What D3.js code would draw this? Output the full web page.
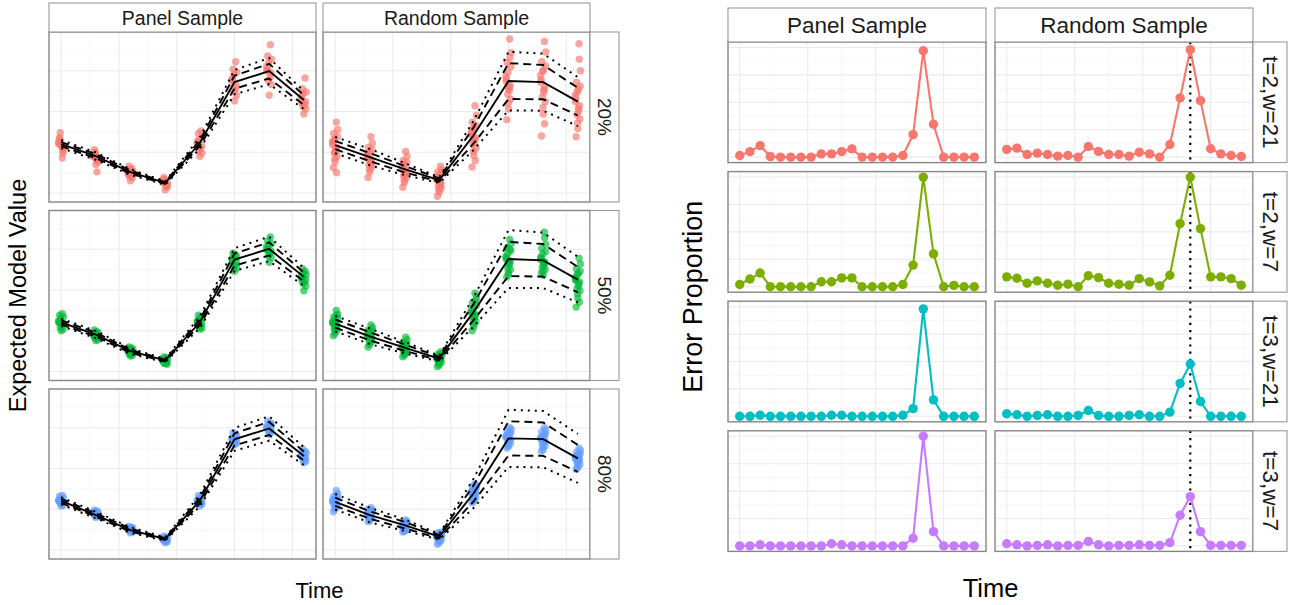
<!DOCTYPE html>
<html>
<head>
<meta charset="utf-8">
<script src="https://d3js.org/d3.v7.min.js"></script>
<style>
    body { margin: 0; background: #fff; }
    svg { display: block; font-family: 'Liberation Sans', Arial, Helvetica, sans-serif; }
</style>
</head>
<body>
<script>
window.document.addEventListener('DOMContentLoaded', init, false);

// ---------- left chart: expected model value ----------
var times = [0, 6, 12, 18, 24, 30, 36, 42];
var sampleTypes = ['Panel Sample', 'Random Sample'];
var quantileRows = ['20%', '50%', '80%'];
var quantileColors = ['#F8766D', '#00BA38', '#619CFF'];

var meanPanel20 = [6.00, 4.53, 2.57, 1.23, 6.13, 13.60, 14.95, 11.40];
var meanRandom20 = [5.88, 4.41, 2.94, 1.59, 7.11, 13.73, 13.60, 11.21];
var meanPanel50 = [6.04, 4.53, 2.49, 1.35, 6.04, 13.73, 15.04, 11.61];
var meanRandom50 = [5.88, 4.32, 2.94, 1.59, 7.35, 13.81, 13.64, 11.27];
var meanPanel80 = [6.04, 4.29, 2.45, 1.35, 6.04, 13.57, 14.91, 11.52];
var meanRandom80 = [5.92, 4.29, 3.06, 1.63, 6.99, 13.69, 13.60, 11.24];

// half widths of the dashed (inner) and dotted (outer) bands
var dashPanel20 = [0.25, 0.25, 0.2, 0.1, 0.35, 0.8, 0.9, 0.6];
var dotPanel20 = [0.5, 0.45, 0.35, 0.2, 0.7, 1.5, 1.6, 1.1];
var dashPanel50 = [0.25, 0.25, 0.2, 0.1, 0.35, 0.75, 0.8, 0.55];
var dotPanel50 = [0.45, 0.45, 0.35, 0.2, 0.7, 1.4, 1.5, 1.1];
var dashPanel80 = [0.25, 0.2, 0.2, 0.1, 0.35, 0.75, 0.8, 0.55];
var dotPanel80 = [0.45, 0.4, 0.35, 0.2, 0.7, 1.4, 1.5, 1.1];
var dashRandom20 = [0.5, 0.5, 0.4, 0.2, 1.0, 2.2, 2.1, 1.7];
var dotRandom20 = [1.0, 1.0, 0.75, 0.35, 1.8, 3.6, 3.5, 3.0];
var dashRandom50 = [0.5, 0.5, 0.4, 0.2, 1.0, 2.1, 2.0, 1.55];
var dotRandom50 = [0.95, 0.95, 0.7, 0.35, 1.8, 3.55, 3.4, 2.8];
var dashRandom80 = [0.5, 0.45, 0.4, 0.2, 1.0, 2.1, 2.05, 1.65];
var dotRandom80 = [0.95, 0.9, 0.7, 0.35, 1.8, 3.5, 3.45, 3.0];

// individual draws, one list per time point
var ptsPanel20 = [
    [6.0, 5.6, 6.4, 5.2, 6.8, 4.9, 5.9, 6.2, 4.3, 7.4, 5.5, 6.6],
    [4.5, 4.1, 4.9, 3.8, 5.3, 4.3, 3.5, 4.7, 2.6, 5.0, 4.0, 4.4],
    [2.5, 2.2, 2.9, 1.9, 3.3, 2.6, 1.5, 2.4, 3.0, 2.0, 2.7, 2.3],
    [1.3, 1.0, 1.6, 0.7, 1.9, 1.2, 0.4, 1.4, 0.9, 1.7, 1.1, 1.5],
    [6.0, 5.5, 6.6, 4.9, 7.3, 5.8, 4.5, 6.3, 7.6, 5.2, 6.8, 6.1],
    [13.6, 12.8, 14.5, 12.0, 15.2, 13.2, 11.3, 14.0, 16.1, 12.5, 14.8, 13.9],
    [15.0, 14.2, 16.0, 13.3, 16.8, 14.7, 12.0, 15.5, 18.2, 13.8, 16.4, 15.2],
    [11.5, 10.9, 12.2, 10.3, 12.8, 11.2, 9.7, 11.8, 14.1, 10.6, 12.4, 11.0]
];
var ptsRandom20 = [
    [5.9, 5.2, 6.6, 4.5, 7.3, 5.6, 3.8, 6.2, 8.7, 4.9, 6.9, 3.1, 5.4, 7.8, 4.2, 6.4, 2.5, 5.0],
    [4.4, 3.8, 5.0, 3.2, 5.6, 4.1, 2.6, 4.7, 6.9, 3.5, 5.3, 1.9, 4.0, 6.1, 2.9, 4.8, 3.6, 4.2],
    [2.9, 2.4, 3.5, 1.9, 4.0, 2.7, 1.3, 3.2, 5.1, 2.1, 3.8, 0.7, 2.6, 4.5, 1.6, 3.0, 2.3, 3.4],
    [1.6, 1.1, 2.1, 0.6, 2.6, 1.3, 0.1, 1.9, 3.3, 0.8, 2.4, -0.4, 1.4, 2.9, 0.4, 1.7, 1.0, 2.0],
    [7.1, 6.3, 7.9, 5.5, 8.7, 6.8, 4.6, 7.5, 10.7, 6.0, 8.3, 3.2, 6.6, 9.5, 5.1, 7.3, 4.0, 8.0],
    [13.7, 12.6, 14.8, 11.5, 16.0, 13.2, 10.3, 14.3, 18.9, 12.1, 15.5, 9.0, 13.0, 17.2, 11.0, 14.0, 16.6, 12.8],
    [13.6, 12.4, 14.9, 11.2, 16.1, 13.0, 9.7, 14.4, 18.6, 11.8, 15.6, 7.0, 12.7, 17.3, 10.5, 13.9, 8.5, 15.1],
    [11.2, 10.1, 12.4, 9.1, 13.6, 10.7, 7.9, 12.0, 18.3, 9.6, 13.1, 6.9, 10.4, 15.0, 8.6, 11.6, 16.4, 12.7]
];
var ptsPanel50 = [
    [6.0, 5.6, 6.5, 5.2, 6.9, 5.8, 5.0, 6.2, 7.1, 5.4, 6.7, 6.1],
    [4.5, 4.2, 4.8, 3.9, 5.1, 4.4, 3.8, 4.6, 4.9, 4.1, 4.7, 4.3],
    [2.5, 2.2, 2.8, 2.0, 3.0, 2.4, 1.9, 2.6, 2.9, 2.1, 2.7, 2.3],
    [1.3, 1.1, 1.5, 0.9, 1.8, 1.2, 1.0, 1.4, 1.7, 1.0, 1.6, 1.3],
    [6.0, 5.7, 6.4, 5.3, 6.9, 5.9, 5.2, 6.2, 6.7, 5.5, 6.5, 6.1],
    [13.6, 13.1, 14.1, 12.7, 14.5, 13.4, 12.3, 13.8, 14.3, 12.9, 14.0, 13.5],
    [15.0, 14.5, 15.5, 14.0, 16.0, 14.8, 13.4, 15.3, 16.5, 14.2, 15.7, 14.9],
    [11.5, 11.0, 12.0, 10.5, 12.6, 11.3, 9.9, 11.7, 12.3, 10.8, 11.9, 11.2]
];
var ptsRandom50 = [
    [5.9, 5.5, 6.3, 5.1, 6.7, 5.7, 4.7, 6.1, 7.5, 5.3, 6.5, 4.4, 5.8, 7.0, 5.0, 6.0, 6.9, 5.6],
    [4.4, 4.0, 4.8, 3.7, 5.1, 4.2, 3.3, 4.6, 5.7, 3.9, 5.0, 3.0, 4.3, 5.4, 3.5, 4.5, 4.1, 4.9],
    [2.9, 2.6, 3.3, 2.3, 3.6, 2.8, 2.0, 3.1, 4.2, 2.5, 3.4, 1.8, 2.7, 3.9, 2.2, 3.0, 2.4, 3.2],
    [1.6, 1.3, 1.9, 1.1, 2.1, 1.5, 0.8, 1.7, 2.4, 1.2, 2.0, 0.6, 1.4, 2.2, 1.0, 1.6, 1.8, 1.3],
    [7.2, 6.6, 7.8, 6.1, 8.4, 7.0, 5.5, 7.5, 9.6, 6.4, 8.1, 5.0, 6.9, 9.0, 5.8, 7.3, 8.7, 6.7],
    [13.8, 13.1, 14.5, 12.5, 15.2, 13.5, 11.9, 14.1, 16.2, 12.8, 14.8, 11.6, 13.3, 15.7, 12.2, 14.0, 15.0, 13.6],
    [13.7, 13.0, 14.4, 12.5, 15.1, 13.4, 11.8, 14.0, 17.1, 12.8, 14.7, 12.1, 13.2, 15.6, 12.3, 13.9, 16.4, 13.5],
    [11.2, 10.5, 11.9, 9.9, 12.6, 11.0, 9.0, 11.5, 13.9, 10.2, 12.3, 7.9, 10.8, 13.2, 9.5, 11.3, 8.5, 12.0]
];
var ptsPanel80 = [
    [6.0, 5.8, 6.3, 5.5, 6.6, 5.9, 5.4, 6.1, 6.7, 5.7, 6.4, 6.0],
    [4.5, 4.3, 4.7, 4.1, 4.9, 4.4, 4.0, 4.6, 4.8, 4.2, 4.6, 4.4],
    [2.5, 2.3, 2.7, 2.2, 2.9, 2.5, 2.1, 2.6, 2.8, 2.4, 2.7, 2.5],
    [1.3, 1.1, 1.5, 1.0, 1.7, 1.2, 0.9, 1.4, 1.6, 1.1, 1.5, 1.3],
    [6.0, 5.8, 6.3, 5.6, 6.7, 5.9, 5.4, 6.1, 6.5, 5.7, 6.4, 6.0],
    [13.6, 13.3, 13.9, 13.1, 14.4, 13.5, 12.9, 13.7, 14.2, 13.2, 14.0, 13.6],
    [15.0, 14.7, 15.3, 14.4, 15.8, 14.9, 14.2, 15.1, 15.6, 14.6, 15.4, 15.0],
    [11.5, 11.2, 11.8, 10.9, 12.4, 11.4, 10.7, 11.6, 12.1, 11.1, 11.9, 11.5]
];
var ptsRandom80 = [
    [5.9, 5.6, 6.3, 5.3, 6.6, 5.8, 5.0, 6.1, 7.3, 5.5, 6.4, 4.7, 5.7, 6.9, 5.2, 6.0, 6.7, 5.8],
    [4.4, 4.1, 4.7, 3.9, 5.0, 4.3, 3.6, 4.5, 5.2, 4.0, 4.8, 3.5, 4.2, 4.9, 3.8, 4.4, 4.6, 4.3],
    [2.9, 2.7, 3.2, 2.5, 3.4, 2.8, 2.3, 3.0, 3.7, 2.6, 3.3, 2.2, 2.9, 3.5, 2.4, 3.0, 3.1, 2.8],
    [1.6, 1.4, 1.9, 1.2, 2.1, 1.5, 0.9, 1.7, 2.2, 1.3, 2.0, 0.7, 1.6, 1.8, 1.1, 1.5, 1.9, 1.4],
    [7.0, 6.7, 7.4, 6.4, 7.8, 6.9, 6.0, 7.2, 8.1, 6.5, 7.6, 5.8, 7.0, 7.9, 6.2, 7.1, 7.5, 6.8],
    [13.8, 13.4, 14.2, 13.1, 14.6, 13.6, 12.7, 14.0, 15.0, 13.2, 14.4, 12.5, 13.7, 14.8, 12.9, 13.9, 14.3, 13.5],
    [13.6, 13.2, 14.0, 12.8, 14.5, 13.4, 12.3, 13.8, 15.0, 13.0, 14.3, 12.1, 13.5, 14.7, 12.6, 13.7, 14.1, 13.3],
    [11.2, 10.9, 11.6, 10.5, 12.0, 11.1, 10.1, 11.4, 12.5, 10.7, 11.8, 9.9, 11.2, 12.2, 10.3, 11.3, 11.7, 10.9]
];

// horizontal jitter (time units) used for the draws
var jitterX = [-0.4, 0.15, -0.1, 0.35, -0.25, 0.3, 0.0, -0.45, 0.2, -0.15, 0.4, -0.3, 0.1, 0.45, -0.05, -0.35, 0.25, 0.05];

var leftXMajor = [0, 10, 20, 30, 40];
var leftXMinor = [5, 15, 25, 35];
var leftYMajor = [0, 5, 10, 15];
var leftYMinor = [2.5, 7.5, 12.5, 17.5];

// ---------- right chart: error proportion ----------
var errTimes = [0, 3, 6, 9, 12, 15, 18, 21, 24, 27, 30, 33, 36, 39, 42, 45, 48, 51, 54, 57, 60, 63, 66, 69];
var settingRows = ['t=2,w=21', 't=2,w=7', 't=3,w=21', 't=3,w=7'];
var settingColors = ['#F8766D', '#7CAE00', '#00BFC4', '#C77CFF'];
var changeTime = 54;

var errPanelT2W21 = [0.015, 0.05, 0.105, 0.005, 0, 0, 0, 0, 0.03, 0.03, 0.05, 0.075, 0, 0, 0, 0, 0.015, 0.205, 0.97, 0.30, 0, 0, 0, 0];
var errRandomT2W21 = [0.07, 0.082, 0.024, 0.036, 0.024, 0.009, 0.015, 0, 0.097, 0.052, 0.024, 0.024, 0.009, 0.045, 0.03, 0, 0.115, 0.54, 0.98, 0.515, 0.076, 0.03, 0.015, 0.006];
var errPanelT2W7 = [0.02, 0.07, 0.125, 0, 0, 0, 0, 0, 0.045, 0.045, 0.08, 0.08, 0, 0, 0, 0, 0.02, 0.197, 1.0, 0.30, 0, 0.012, 0, 0];
var errRandomT2W7 = [0.09, 0.077, 0.032, 0.053, 0.032, 0.014, 0.023, 0, 0.10, 0.083, 0.032, 0.023, 0.014, 0.074, 0.044, 0.008, 0.105, 0.575, 1.0, 0.53, 0.09, 0.09, 0.074, 0.014];
var errPanelT3W21 = [0, 0, 0.01, 0, 0, 0, 0, 0, 0, 0.01, 0.01, 0, 0, 0, 0, 0, 0.01, 0.07, 0.98, 0.15, 0, 0, 0, 0];
var errRandomT3W21 = [0.023, 0.014, 0, 0.008, 0.014, 0, 0, 0.008, 0.053, 0.008, 0, 0, 0.008, 0.014, 0, 0, 0.038, 0.30, 0.477, 0.135, 0, 0, 0, 0];
var errPanelT3W7 = [0, 0, 0.01, 0, 0, 0, 0, 0, 0, 0.02, 0.01, 0, 0, 0, 0, 0, 0, 0.07, 1.0, 0.13, 0, 0, 0, 0];
var errRandomT3W7 = [0.02, 0.01, 0, 0.005, 0.01, 0, 0.005, 0.005, 0.04, 0.01, 0, 0.005, 0.005, 0.01, 0.005, 0.005, 0.03, 0.28, 0.45, 0.13, 0.005, 0.005, 0.005, 0.005];

var rightXMajor = [0, 20, 40, 60];
var rightXMinor = [10, 30, 50, 70];
var rightYMajor = [0, 0.25, 0.5, 0.75, 1];
var rightYMinor = [0.125, 0.375, 0.625, 0.875];

function init() {
    var svg = d3.select('body')
        .append('svg')
        .attr('width', 1292)
        .attr('height', 605);

    drawLeftChart(svg);
    drawRightChart(svg);
}

function drawLeftChart(svg) {
    var L = {x0: 49, y0: 32, w: 267, h: 170, gapX: 7, gapY: 8.5, stripH: 29, stripW: 29};
    var x = d3.scaleLinear().domain([-2.1, 44.1]).range([0, L.w]);
    var y = d3.scaleLinear().domain([-1.1, 19.75]).range([L.h, 0]);

    var panels = [
        [{mean: meanPanel20, dash: dashPanel20, dot: dotPanel20, pts: ptsPanel20},
         {mean: meanRandom20, dash: dashRandom20, dot: dotRandom20, pts: ptsRandom20}],
        [{mean: meanPanel50, dash: dashPanel50, dot: dotPanel50, pts: ptsPanel50},
         {mean: meanRandom50, dash: dashRandom50, dot: dotRandom50, pts: ptsRandom50}],
        [{mean: meanPanel80, dash: dashPanel80, dot: dotPanel80, pts: ptsPanel80},
         {mean: meanRandom80, dash: dashRandom80, dot: dotRandom80, pts: ptsRandom80}]
    ];

    var line = d3.line()
        .x((d, i) => x(times[i]))
        .y((d) => y(d));

    quantileRows.forEach((rowLabel, r) => {
        sampleTypes.forEach((sample, c) => {
            var p = panels[r][c];
            var g = svg.append('g')
                .attr('transform', `translate(${L.x0 + c * (L.w + L.gapX)}, ${L.y0 + r * (L.h + L.gapY)})`);

            drawGrid(g, L.w, L.h, x, y, leftXMajor, leftXMinor, leftYMajor, leftYMinor);

            var draws = [];
            p.pts.forEach((cluster, i) => {
                cluster.forEach((v, j) => draws.push({t: times[i] + jitterX[j % jitterX.length], v: v}));
            });

            g.selectAll('.draw')
                .data(draws)
                .enter()
                    .append('circle')
                    .attr('class', 'draw')
                    .attr('cx', (d) => x(d.t))
                    .attr('cy', (d) => y(d.v))
                    .attr('r', 3.7)
                    .attr('fill', quantileColors[r])
                    .attr('fill-opacity', 0.65);

            var bands = [
                {vals: p.mean.map((m, i) => m + p.dot[i]), dash: '2,5', w: 2},
                {vals: p.mean.map((m, i) => m - p.dot[i]), dash: '2,5', w: 2},
                {vals: p.mean.map((m, i) => m + p.dash[i]), dash: '8,5', w: 1.9},
                {vals: p.mean.map((m, i) => m - p.dash[i]), dash: '8,5', w: 1.9},
                {vals: p.mean, dash: null, w: 1.9}
            ];
            bands.forEach((b) => {
                g.append('path')
                    .attr('d', line(b.vals))
                    .attr('fill', 'none')
                    .attr('stroke', '#000')
                    .attr('stroke-width', b.w)
                    .attr('stroke-dasharray', b.dash);
            });

            drawBorder(g, L.w, L.h);

            if (r === 0) {
                drawStrip(svg, L.x0 + c * (L.w + L.gapX), L.y0 - L.stripH, L.w, L.stripH, sample, 19.5, false);
            }
        });
        drawStrip(svg, L.x0 + 2 * L.w + L.gapX, L.y0 + r * (L.h + L.gapY), L.stripW, L.h, rowLabel, 19, true);
    });

    svg.append('text')
        .attr('transform', `translate(18, ${L.y0 + (3 * L.h + 2 * L.gapY) / 2}) rotate(-90)`)
        .attr('text-anchor', 'middle')
        .attr('dominant-baseline', 'central')
        .attr('font-size', '23.5px')
        .attr('fill', '#000')
        .text('Expected Model Value');

    svg.append('text')
        .attr('x', L.x0 + L.w + L.gapX / 2)
        .attr('y', 598)
        .attr('text-anchor', 'middle')
        .attr('font-size', '22px')
        .attr('fill', '#000')
        .text('Time');
}

function drawRightChart(svg) {
    var R = {x0: 728, y0: 42, w: 258, h: 120.6, gapX: 9, gapY: 9, stripH: 34, stripW: 34};
    var x = d3.scaleLinear().domain([-3.45, 72.45]).range([0, R.w]);
    var y = d3.scaleLinear().domain([-0.05, 1.05]).range([R.h, 0]);

    var series = [
        [errPanelT2W21, errRandomT2W21],
        [errPanelT2W7, errRandomT2W7],
        [errPanelT3W21, errRandomT3W21],
        [errPanelT3W7, errRandomT3W7]
    ];

    var line = d3.line()
        .x((d, i) => x(errTimes[i]))
        .y((d) => y(d));

    settingRows.forEach((rowLabel, r) => {
        sampleTypes.forEach((sample, c) => {
            var vals = series[r][c];
            var g = svg.append('g')
                .attr('transform', `translate(${R.x0 + c * (R.w + R.gapX)}, ${R.y0 + r * (R.h + R.gapY)})`);

            drawGrid(g, R.w, R.h, x, y, rightXMajor, rightXMinor, rightYMajor, rightYMinor);

            // change point marker sits under the series
            if (c === 1) {
                g.append('line')
                    .attr('x1', x(changeTime))
                    .attr('x2', x(changeTime))
                    .attr('y1', 0)
                    .attr('y2', R.h)
                    .attr('stroke', '#000')
                    .attr('stroke-width', 2.2)
                    .attr('stroke-dasharray', '2.2,5');
            }

            g.append('path')
                .attr('d', line(vals))
                .attr('fill', 'none')
                .attr('stroke', settingColors[r])
                .attr('stroke-width', 2.1);

            g.selectAll('.pt')
                .data(vals)
                .enter()
                    .append('circle')
                    .attr('class', 'pt')
                    .attr('cx', (d, i) => x(errTimes[i]))
                    .attr('cy', (d) => y(d))
                    .attr('r', 4.7)
                    .attr('fill', settingColors[r]);

            drawBorder(g, R.w, R.h);

            if (r === 0) {
                drawStrip(svg, R.x0 + c * (R.w + R.gapX), R.y0 - R.stripH, R.w, R.stripH, sample, 22.5, false);
            }
        });
        drawStrip(svg, R.x0 + 2 * R.w + R.gapX, R.y0 + r * (R.h + R.gapY), R.stripW, R.h, rowLabel, 22.5, true);
    });

    svg.append('text')
        .attr('transform', `translate(693, ${R.y0 + (4 * R.h + 3 * R.gapY) / 2}) rotate(-90)`)
        .attr('text-anchor', 'middle')
        .attr('dominant-baseline', 'central')
        .attr('font-size', '27px')
        .attr('fill', '#000')
        .text('Error Proportion');

    svg.append('text')
        .attr('x', R.x0 + R.w + R.gapX / 2)
        .attr('y', 597)
        .attr('text-anchor', 'middle')
        .attr('font-size', '25.5px')
        .attr('fill', '#000')
        .text('Time');
}

function drawGrid(g, w, h, x, y, xMajor, xMinor, yMajor, yMinor) {
    g.append('rect')
        .attr('width', w)
        .attr('height', h)
        .attr('fill', '#fff');

    var grid = [
        {vals: yMinor, horiz: true, width: 0.6, color: '#f2f2f2'},
        {vals: xMinor, horiz: false, width: 0.6, color: '#f2f2f2'},
        {vals: yMajor, horiz: true, width: 1.1, color: '#ebebeb'},
        {vals: xMajor, horiz: false, width: 1.1, color: '#ebebeb'}
    ];
    grid.forEach((gr) => {
        g.selectAll(null)
            .data(gr.vals)
            .enter()
                .append('line')
                .attr('x1', (d) => gr.horiz ? 0 : x(d))
                .attr('x2', (d) => gr.horiz ? w : x(d))
                .attr('y1', (d) => gr.horiz ? y(d) : 0)
                .attr('y2', (d) => gr.horiz ? y(d) : h)
                .attr('stroke', gr.color)
                .attr('stroke-width', gr.width);
    });
}

function drawBorder(g, w, h) {
    g.append('rect')
        .attr('width', w)
        .attr('height', h)
        .attr('fill', 'none')
        .attr('stroke', '#858585')
        .attr('stroke-width', 1.4);
}

function drawStrip(svg, x0, y0, w, h, label, size, vertical) {
    svg.append('rect')
        .attr('x', x0)
        .attr('y', y0)
        .attr('width', w)
        .attr('height', h)
        .attr('fill', '#fff')
        .attr('stroke', '#999')
        .attr('stroke-width', 1.1);

    svg.append('text')
        .attr('transform', `translate(${x0 + w / 2}, ${y0 + h / 2})` + (vertical ? ' rotate(90)' : ''))
        .attr('text-anchor', 'middle')
        .attr('dominant-baseline', 'central')
        .attr('font-size', size + 'px')
        .attr('fill', '#1a1a1a')
        .text(label);
}
</script>
</body>
</html>
